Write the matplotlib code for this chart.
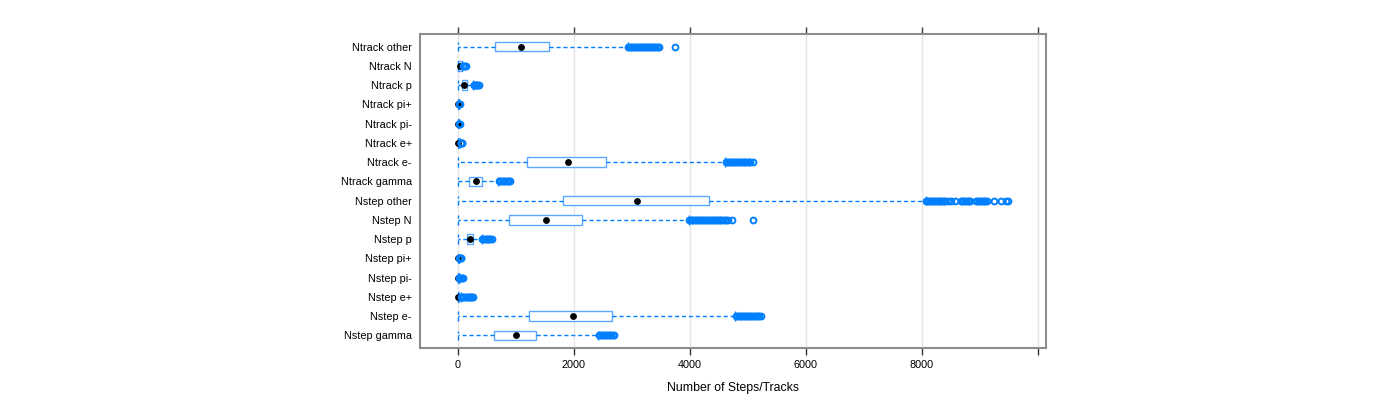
import matplotlib
matplotlib.use('Agg')
import matplotlib.pyplot as plt

# categories listed bottom -> top
categories = ['Nstep gamma', 'Nstep e-', 'Nstep e+', 'Nstep pi-', 'Nstep pi+',
              'Nstep p', 'Nstep N', 'Nstep other',
              'Ntrack gamma', 'Ntrack e-', 'Ntrack e+', 'Ntrack pi-', 'Ntrack pi+',
              'Ntrack p', 'Ntrack N', 'Ntrack other']

whislo = [0, 0, 0, 0, 0, 0, 0, 0, 0, 0, 0, 0, 0, 0, 0, 0]
q1 = [621, 1230, 0, 0, 0, 150, 876, 1819, 190, 1184, 0, 0, 0, 64, 0, 638]
med = [1000, 1977, 5, 2, 2, 207, 1510, 3086, 310, 1897, 8, 5, 5, 109, 35, 1086]
q3 = [1350, 2661, 25, 10, 10, 264, 2143, 4328, 414, 2552, 20, 10, 10, 160, 69, 1569]
whishi = [2408, 4776, 45, 20, 20, 408, 3983, 8069, 690, 4603, 40, 15, 15, 260, 75, 2930]

fliers = [
    [2430, 2455, 2480, 2500, 2525, 2550, 2570, 2600, 2620, 2645, 2670, 2690],
    [4790, 4815, 4840, 4860, 4885, 4910, 4935, 4960, 4985, 5010, 5030, 5055,
     5080, 5100, 5125, 5150, 5170, 5195, 5224],
    [50, 70, 90, 110, 130, 150, 170, 190, 210, 230, 245, 260],
    [25, 40, 55, 70, 80],
    [25, 35, 45, 60],
    [420, 440, 460, 480, 500, 520, 540, 560, 580],
    [3990, 4015, 4040, 4060, 4085, 4110, 4135, 4160, 4180, 4205, 4230, 4255,
     4280, 4300, 4325, 4350, 4375, 4400, 4420, 4445, 4470, 4495, 4520, 4545,
     4570, 4600, 4630, 4655, 4729, 5091],
    [8069, 8090, 8115, 8138, 8160, 8185, 8205, 8224, 8250, 8275, 8295, 8310,
     8335, 8360, 8380, 8397, 8448, 8512, 8569, 8672, 8695, 8720, 8741, 8765,
     8790, 8810, 8828, 8931, 8955, 8980, 9000, 9025, 9050, 9070, 9086, 9121,
     9241, 9374, 9460, 9483],
    [700, 720, 745, 770, 790, 815, 840, 860, 880, 897],
    [4620, 4645, 4670, 4690, 4715, 4740, 4760, 4785, 4810, 4835, 4860, 4880,
     4905, 4930, 4950, 4975, 5000, 5020, 5045, 5086],
    [45, 55, 65, 75],
    [20, 30],
    [20, 30],
    [270, 285, 300, 315, 330, 345, 360],
    [85, 103, 120, 138],
    [2940, 2960, 2985, 3010, 3030, 3055, 3080, 3100, 3125, 3150, 3170, 3195,
     3220, 3245, 3265, 3290, 3310, 3335, 3360, 3385, 3405, 3430, 3450, 3466,
     3741],
]

xticks = [0, 2000, 4000, 6000, 8000, 10000]
xticklabels = ['0', '2000', '4000', '6000', '8000', '']

plt.rcParams['font.family'] = ['Liberation Sans', 'DejaVu Sans']

fig = plt.figure(figsize=(14, 4), dpi=100)
ax = fig.add_axes([0.3, 0.13, 0.447, 0.785])

blue = '#0080ff'
stats = []
for i in range(len(categories)):
    stats.append({'whislo': whislo[i], 'q1': q1[i], 'med': med[i], 'q3': q3[i],
                  'whishi': whishi[i], 'fliers': fliers[i], 'label': categories[i]})

positions = list(range(1, len(categories) + 1))
bp = ax.bxp(stats, positions=positions, vert=False, widths=0.5, patch_artist=True,
            showfliers=True,
            boxprops=dict(facecolor='white', edgecolor='#5aa8ff', linewidth=1.0),
            whiskerprops=dict(color=blue, linestyle=(0, (3, 2)), linewidth=1.0),
            capprops=dict(color=blue, linestyle=(0, (3, 2)), linewidth=1.0),
            capwidths=0.5,
            medianprops=dict(linestyle='none'),
            flierprops=dict(marker='o', markerfacecolor='none', markeredgecolor=blue,
                            markersize=4.2, markeredgewidth=1.4, linestyle='none'),
            zorder=3)
for f in bp['fliers']:
    f.set_zorder(6)

# median dots (drawn under the outliers, as in lattice)
ax.plot(med, positions, 'o', color='black', markersize=3.9, zorder=5, linestyle='none')

for x in xticks:
    ax.axvline(x, color='#e6e6e6', linewidth=1, zorder=0)

ax.set_xlim(-655, 10140)
ax.set_ylim(0.35, 16.65)
ax.set_xticks(xticks)
ax.set_xticklabels(xticklabels, fontsize=7.8)
ax.set_yticks(positions)
ax.set_yticklabels(categories, fontsize=7.8)
ax.tick_params(axis='y', length=0, pad=6)
ax.tick_params(axis='x', direction='out', length=5, width=1, color='#333333',
               top=True, bottom=True, labeltop=False, pad=4)
ax.set_xlabel('Number of Steps/Tracks', fontsize=8.8, labelpad=8)
for s in ax.spines.values():
    s.set_color('#8c8c8c')
    s.set_linewidth(1.5)

fig.savefig('out.png', dpi=100)
